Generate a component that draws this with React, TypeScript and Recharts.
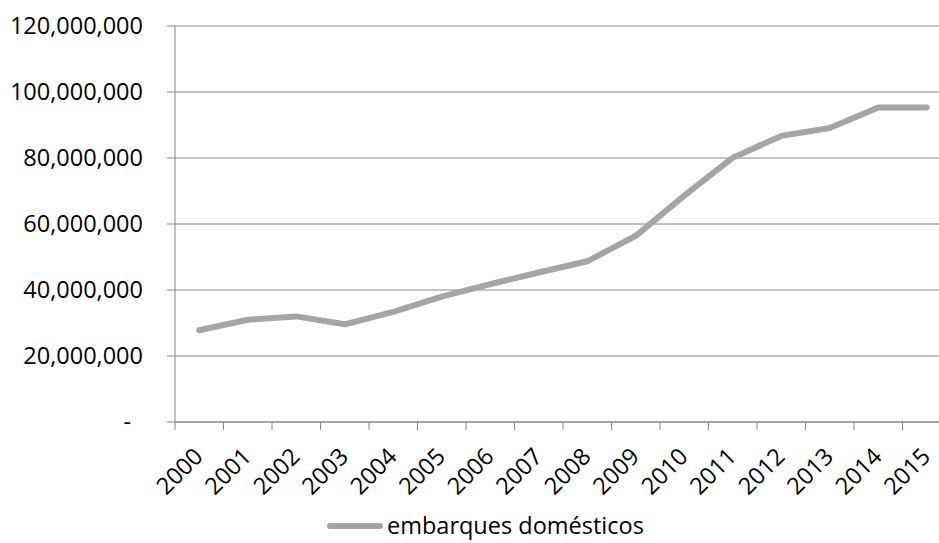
import { LineChart, Line, XAxis, YAxis, CartesianGrid, Legend } from 'recharts';

const years = ['2000', '2001', '2002', '2003', '2004', '2005', '2006', '2007', '2008', '2009', '2010', '2011', '2012', '2013', '2014', '2015'];
const embarques = [
  27800000, 31000000, 32000000, 29600000, 33400000, 38000000, 41800000, 45300000,
  48700000, 56400000, 68600000, 80100000, 86700000, 89100000, 95300000, 95300000,
];
const yTicks = [0, 20000000, 40000000, 60000000, 80000000, 100000000, 120000000];

const data = years.map((year, i) => ({ year, embarques: embarques[i] }));

const W = 960;
const H = 543;
const margin = { top: 26, right: 9, left: 0, bottom: 0 };
const yAxisW = 175;
// width of one year slot on the x axis
const step = (W - margin.left - margin.right - yAxisW) / years.length;

const gridColor = '#868686';
const lineColor = '#A5A5A5';
const font = '"Open Sans", sans-serif';
const fontSize = 23.5;

const fmt = (v: number) => (v === 0 ? '-' : v.toLocaleString('en-US'));

const ValueTick = ({ x, y, payload }: any) => (
  <text
    x={payload.value === 0 ? x - 12 : x}
    y={y}
    dy="0.355em"
    textAnchor="end"
    fill="#000"
    fontSize={fontSize}
    fontFamily={font}
  >
    {fmt(payload.value)}
  </text>
);

const YearTick = ({ x, y, payload, index }: any) => (
  <g>
    <line x1={x - step / 2} x2={x - step / 2} y1={y} y2={y + 8} stroke={gridColor} />
    {index === years.length - 1 && (
      <line x1={x + step / 2} x2={x + step / 2} y1={y} y2={y + 8} stroke={gridColor} />
    )}
    <g transform={`translate(${x + 5},${y + 36}) rotate(-45)`}>
      <text x={0} y={0} textAnchor="end" fill="#000" fontSize={fontSize} fontFamily={font}>
        {payload.value}
      </text>
    </g>
  </g>
);

const SeriesLegend = () => (
  <div
    style={{
      display: 'flex',
      alignItems: 'center',
      marginLeft: 327,
      fontFamily: font,
      fontSize: fontSize,
      lineHeight: '31px',
      color: '#000',
    }}
  >
    <span
      style={{
        display: 'inline-block',
        width: 56,
        height: 6,
        borderRadius: 3,
        background: lineColor,
        marginRight: 4,
      }}
    />
    <span>embarques domésticos</span>
  </div>
);

export default function App() {
  return (
    <div
      style={{
        position: 'absolute',
        left: 0,
        top: 0,
        width: 939,
        height: 543,
        overflow: 'hidden',
        background: '#fff',
      }}
    >
      <LineChart width={W} height={H} data={data} margin={margin} style={{ fontFamily: font }}>
        <CartesianGrid horizontal vertical={false} stroke={gridColor} strokeWidth={1} />
        <XAxis
          dataKey="year"
          height={H - 422 - margin.bottom}
          padding={{ left: step / 2, right: step / 2 }}
          axisLine={{ stroke: gridColor }}
          tickLine={false}
          tickSize={0}
          tickMargin={0}
          interval={0}
          tick={<YearTick />}
        />
        <YAxis
          width={yAxisW}
          domain={[0, 120000000]}
          ticks={yTicks}
          interval={0}
          axisLine={{ stroke: gridColor }}
          tickLine={{ stroke: gridColor }}
          tickSize={8}
          tickMargin={24}
          tick={<ValueTick />}
        />
        <Legend
          layout="horizontal"
          verticalAlign="middle"
          align="center"
          wrapperStyle={{ top: 510, left: 0, width: W }}
          content={<SeriesLegend />}
        />
        <Line
          type="linear"
          dataKey="embarques"
          name="embarques domésticos"
          stroke={lineColor}
          strokeWidth={6}
          strokeLinecap="round"
          strokeLinejoin="round"
          dot={false}
          activeDot={false}
          isAnimationActive={false}
        />
      </LineChart>
    </div>
  );
}
